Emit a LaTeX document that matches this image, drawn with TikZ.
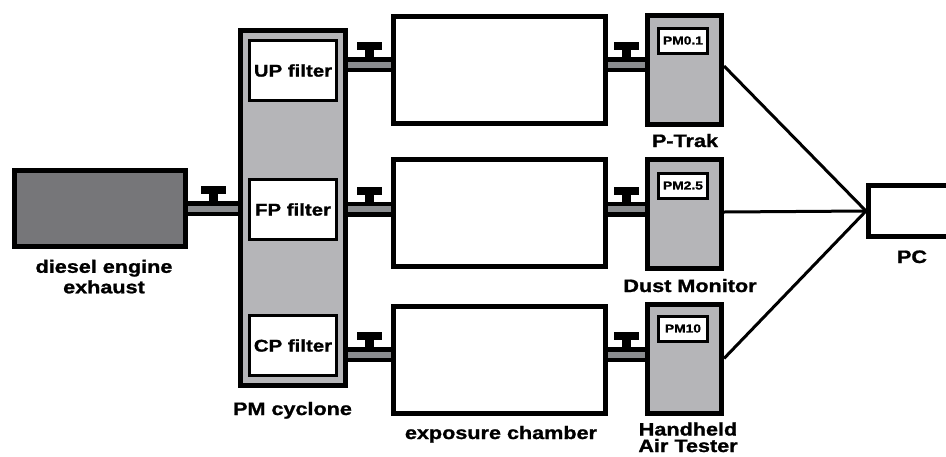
\documentclass[tikz,border=0pt]{standalone}
\usepackage{fontspec}
\setmainfont{Liberation Sans}[FakeStretch=1.2, BoldFeatures={FakeBold=1.2}]
\usepackage{xcolor}
\usetikzlibrary{calc}
\definecolor{enginegray}{RGB}{118,118,121}
\definecolor{unitgray}{RGB}{181,181,184}
\definecolor{pipegray}{RGB}{138,140,143}

\begin{document}
\begin{tikzpicture}[x=1pt, y=-1pt,
  unit/.style={draw, line width=5pt, inner sep=0pt},
  chamber/.style={unit, fill=white, minimum width=212pt, minimum height=107pt},
  monitor/.style={unit, fill=unitgray, minimum width=74pt, minimum height=109pt},
  filterbox/.style={draw, line width=3pt, fill=white, minimum width=87pt, minimum height=60pt, inner sep=0pt, font=\fontsize{17}{19}\selectfont\bfseries},
  pmbox/.style={draw, line width=3pt, fill=white, minimum width=49pt, minimum height=25pt, inner sep=0pt, font=\fontsize{11.5}{13}\selectfont\bfseries},
  lbl/.style={font=\fontsize{18}{20.5}\selectfont\bfseries, align=center, inner sep=0pt, anchor=base},
  pipe/.style={draw, line width=15pt, postaction={draw=pipegray, line width=6pt}},
  wire/.style={line width=3pt},
  valve/.pic={\fill (-12.5,-22.5) rectangle (12.5,-14.5); \fill (-4.5,-15) rectangle (4.5,-7);},
]
\useasboundingbox (0,0) rectangle (946,456);
% === Source and cyclone ===
\node[unit, fill=enginegray, minimum width=171pt, minimum height=76pt] (engine) at (100,208.5) {};
\node[unit, fill=unitgray, minimum width=105pt, minimum height=355pt] (cyclone) at (293,208) {};
\node[filterbox] (upf) at (293,70.5) {UP filter};
\node[filterbox] (fpf) at (293,209.5) {FP filter};
\node[filterbox] (cpf) at (293,345.5) {CP filter};
\draw[pipe] (engine.east) -- (engine.east -| cyclone.west);
\pic at ($(engine.east)!0.5!(engine.east -| cyclone.west)$) {valve};
% === Exposure chambers ===
\node[chamber] (chA) at (499.5,69.5) {};
\node[chamber] (chB) at (499.5,213) {};
\node[chamber] (chC) at (499.5,359.5) {};
% === Monitors ===
\node[monitor] (ptrak) at (684.5,70) {};
\node[monitor] (dust) at (684.5,214) {};
\node[monitor] (handheld) at (684.5,358.5) {};
\node[pmbox] (pmA) at (683,40.5) {PM0.1};
\node[pmbox] (pmB) at (683,185.5) {PM2.5};
\node[pmbox] (pmC) at (683,328.5) {PM10};
\node[unit, fill=white, minimum width=84pt, minimum height=51pt] (pc) at (910.5,211) {};
% === Pipes ===
\coordinate (pA) at ([yshift=5pt]chA.west);
\coordinate (pB) at ([yshift=4pt]chB.west);
\coordinate (pC) at ([yshift=5pt]chC.west);
\draw[pipe] (pA -| cyclone.east) -- (pA);
\draw[pipe] (pB -| cyclone.east) -- (pB);
\draw[pipe] (pC -| cyclone.east) -- (pC);
\draw[pipe] (pA -| chA.east) -- (pA -| ptrak.west);
\draw[pipe] (pB -| chB.east) -- (pB -| dust.west);
\draw[pipe] (pC -| chC.east) -- (pC -| handheld.west);
\pic at ($(pA -| cyclone.east)!0.5!(pA)$) {valve};
\pic at ($(pB -| cyclone.east)!0.5!(pB)$) {valve};
\pic at ($(pC -| cyclone.east)!0.5!(pC)$) {valve};
\pic at ($(pA -| chA.east)!0.5!(pA -| ptrak.west)$) {valve};
\pic at ($(pB -| chB.east)!0.5!(pB -| dust.west)$) {valve};
\pic at ($(pC -| chC.east)!0.5!(pC -| handheld.west)$) {valve};
% === Data lines ===
\draw[wire] ([yshift=4pt]ptrak.east) -- (pc.west);
\draw[wire] ([yshift=2pt]dust.east) -- (pc.west);
\draw[wire] (handheld.east) -- (pc.west);
% === Labels ===
\node[lbl] (lblEngine) at (104,293.3) {diesel engine\\exhaust};
\node[lbl] (lblCyclone) at (292.5,415) {PM cyclone};
\node[lbl] (lblChamber) at (501,439) {exposure chamber};
\node[lbl] (lblPtrak) at (685,147) {P-Trak};
\node[lbl] (lblDust) at (690,292) {Dust Monitor};
\node[lbl, font=\fontsize{18}{16.5}\selectfont\bfseries] (lblHand) at (688,452) {Handheld\\Air Tester};
\node[lbl] (lblPC) at (912,263) {PC};
\end{tikzpicture}
\end{document}
